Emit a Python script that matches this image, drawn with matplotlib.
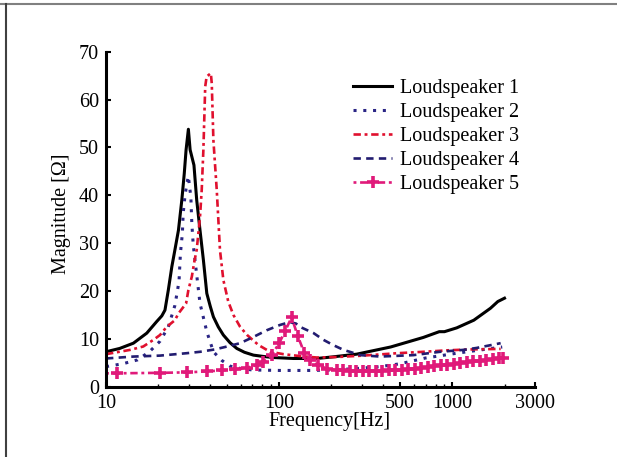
import matplotlib
matplotlib.use("Agg")
import matplotlib.pyplot as plt
from matplotlib.lines import Line2D
from matplotlib.ticker import FixedLocator, FixedFormatter, LogLocator, NullFormatter

# Impedance magnitude of five loudspeakers
freq_ls1 = [10, 12.0, 14.4, 17.2, 19.6, 21.0, 21.9, 22.9, 24.0, 25.0, 26.2, 27.4, 28.3,
            29.0, 29.9, 30.6, 32.2, 33.4, 34.9, 36.5, 38.2, 40.0, 41.7, 44.5, 47.6, 52,
            56.9, 63, 71, 82, 92.7, 121, 165, 200, 280, 440, 680, 840, 900, 1060, 1330,
            1660, 1830, 2000]
mag_ls1 = [7.3, 8.0, 9.1, 11.2, 13.6, 14.8, 16.0, 20.2, 25.1, 28.6, 32.7, 39.0, 44.5,
           49.5, 53.8, 49.5, 46.3, 39.0, 32.7, 26.5, 19.5, 16.8, 14.6, 12.5, 10.8, 9.2,
           8.0, 7.2, 6.6, 6.3, 6.1, 5.9, 5.9, 6.2, 6.8, 8.3, 10.3, 11.5, 11.5, 12.3, 13.9,
           16.4, 17.8, 18.5]

freq_ls2 = [10, 12.5, 15.2, 17.8, 20.5, 22.9, 25.0, 26.4, 26.9, 27.6, 27.9, 28.6, 29.2,
            29.9, 30.3, 30.9, 31.3, 31.9, 34.9, 38.2, 41.7, 46.6, 52, 60, 70, 100, 150,
            205, 281, 383, 500, 700, 1060, 1400, 1940]
mag_ls2 = [4.2, 4.8, 5.6, 7.3, 9.5, 12.5, 17.0, 22.0, 27.9, 32.0, 36.2, 40.0, 42.1,
           44.0, 42.1, 39.7, 34.1, 29.6, 17.4, 11.5, 7.3, 5.5, 4.3, 3.8, 3.5, 3.4, 3.4,
           3.5, 3.8, 4.2, 4.8, 6.0, 7.0, 7.6, 8.3]

freq_ls3 = [10, 13.8, 16.4, 18.8, 20.5, 22.4, 25.0, 26.2, 29.0, 29.9, 31.3, 32.5, 33.4,
            34.9, 35.7, 36.5, 37.4, 38.1, 40.3, 40.8, 41.7, 43.6, 45.5, 47.6, 50.8,
            54.4, 59.5, 65.3, 76, 88.6, 105.9, 132, 165, 215, 305, 480, 683, 930, 1270,
            1900]
mag_ls3 = [6.8, 7.7, 8.4, 9.8, 10.8, 12.5, 13.9, 15.3, 17.4, 20.2, 23.0, 26.5, 28.6,
           35.5, 41.1, 49.5, 62.7, 64.8, 65.5, 63.4, 51.5, 41.1, 28.6, 22.3, 17.8,
           15.0, 12.5, 10.8, 8.7, 7.3, 6.8, 6.4, 6.1, 6.2, 6.5, 7.0, 7.3, 7.6, 7.8,
           7.9]

freq_ls4 = [10, 14.4, 20.5, 29.2, 35, 42.6, 50, 59.5, 71, 84.8, 101, 115, 125, 132,
            158, 180, 205, 235, 295, 383, 595, 850, 1160, 1380, 1900]
mag_ls4 = [5.9, 6.3, 6.5, 7.0, 7.3, 7.8, 8.4, 9.1, 10.4, 11.8, 12.9, 13.5, 13.2, 12.5,
           11.2, 9.8, 8.7, 7.7, 6.6, 6.3, 6.6, 7.3, 7.7, 8.1, 9.1]

freq_ls5 = [10, 11.5, 20.5, 29.5, 38.2, 46.6, 55.6, 65.3, 74, 80.8, 90.6, 100.3, 108.4,
            118, 128, 139.6, 150, 168, 188, 215, 235, 256, 279, 304, 332, 362, 394,
            430, 469, 511, 557, 607, 661, 721, 786, 857, 934, 1018, 1110, 1210, 1319,
            1437, 1567, 1708, 1862, 1950]
mag_ls5 = [2.8, 2.8, 2.9, 3.0, 3.2, 3.4, 3.6, 4.0, 4.5, 5.2, 6.6, 9.2, 11.7,
           14.5, 10.6, 7.1, 5.6, 4.5, 3.8, 3.5, 3.4, 3.3, 3.3, 3.2, 3.2, 3.3, 3.3,
           3.4, 3.4, 3.5, 3.6, 3.8, 4.0, 4.2, 4.3, 4.5, 4.6, 4.8, 4.9, 5.1, 5.3,
           5.4, 5.6, 5.7, 5.9, 6.0]

labels = ["Loudspeaker 1", "Loudspeaker 2", "Loudspeaker 3", "Loudspeaker 4", "Loudspeaker 5"]

x_major = [10, 100, 500, 1000, 3000]
x_major_labels = ["10", "100", "500", "1000", "3000"]
y_ticks = [0, 10, 20, 30, 40, 50, 60, 70]

plt.rcParams["font.family"] = ["Liberation Serif", "DejaVu Serif"]
FS = 14.5

fig = plt.figure(figsize=(6.17, 4.57), dpi=100)
ax = fig.add_axes([0.1718, 0.1538, 0.6953, 0.733])

lw = 1.9
ax.plot(freq_ls1, mag_ls1, color="#000000", lw=2.2, ls="-", label=labels[0])
ax.plot(freq_ls2, mag_ls2, color="#2a2585", lw=2.2, ls=(0, (1, 2.2)), label=labels[1])
ax.plot(freq_ls3, mag_ls3, color="#e0102e", lw=lw, ls=(0, (2.8, 1.4, 1.1, 1.4)), label=labels[2])
ax.plot(freq_ls4, mag_ls4, color="#221c70", lw=lw, ls=(0, (2.8, 2.0)), label=labels[3])
ax.plot(freq_ls5, mag_ls5, color="#e01a7a", lw=lw, ls=(0, (1.1, 1.4, 2.8, 1.4)),
        marker="+", ms=8, mew=2.6, markevery=slice(1, None), label=labels[4])

ax.set_xscale("log")
ax.set_xlim(10, 3000)
ax.set_ylim(0, 70)

ax.xaxis.set_major_locator(FixedLocator(x_major))
ax.xaxis.set_major_formatter(FixedFormatter(x_major_labels))
ax.xaxis.set_minor_locator(LogLocator(base=10, subs=range(2, 10)))
ax.xaxis.set_minor_formatter(NullFormatter())
ax.set_yticks(y_ticks)

for s in ("top", "right"):
    ax.spines[s].set_visible(False)
for s in ("left", "bottom"):
    ax.spines[s].set_linewidth(2.2)

ax.tick_params(axis="both", which="major", direction="in", length=3.5, width=1.5,
               labelsize=FS)
ax.tick_params(axis="x", which="major", pad=5)
ax.tick_params(axis="y", which="major", pad=5)
ax.tick_params(axis="x", which="minor", direction="in", length=2, width=1.0)

ax.set_xlabel("Frequency[Hz]", fontsize=FS)
ax.set_ylabel("Magnitude [Ω]", fontsize=FS)
ax.xaxis.set_label_coords(0.522, -0.105)
ax.xaxis.label.set_va("center")
ax.yaxis.set_label_coords(-0.103, 0.5155)
ax.yaxis.label.set_va("center")

ax.legend(loc="upper left", bbox_to_anchor=(0.572, 0.8263), bbox_transform=fig.transFigure,
          frameon=False, fontsize=FS, handlelength=1.95, handletextpad=0.4,
          labelspacing=0.235, borderpad=0, borderaxespad=0, numpoints=1)

# page frame
fig.add_artist(Line2D([0, 1], [1 - 3.5 / 457, 1 - 3.5 / 457], transform=fig.transFigure,
                      color="#808080", lw=1.5))
fig.add_artist(Line2D([6 / 617, 6 / 617], [0, 1 - 3.5 / 457], transform=fig.transFigure,
                      color="#404040", lw=1.5))

fig.savefig("out.png", dpi=100)
